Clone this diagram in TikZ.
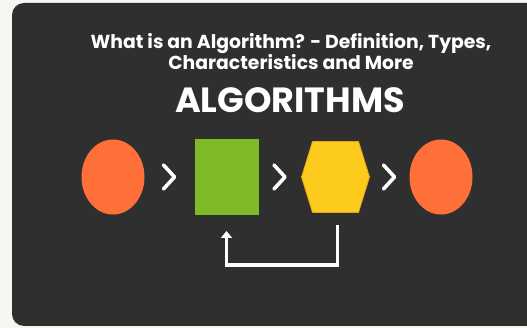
\documentclass[tikz,border=0pt]{standalone}
\usepackage{fontspec}
\setmainfont{Poppins}
\usetikzlibrary{positioning,arrows.meta,shapes.geometric,calc}
\definecolor{pagebg}{HTML}{F8F6F3}
\definecolor{panelbg}{HTML}{2F2F2F}
\definecolor{termorange}{HTML}{FF7038}
\definecolor{procgreen}{HTML}{7FBA27}
\definecolor{decyellow}{HTML}{FDCB1E}
\definecolor{decedge}{HTML}{E3A512}
\begin{document}
\begin{tikzpicture}[x=1pt, y=-1pt,
        terminal/.style={ellipse, fill=termorange, minimum width=63pt, minimum height=75pt, inner sep=0pt, outer sep=0pt},
        process/.style={rectangle, fill=procgreen, minimum width=64pt, minimum height=76pt, inner sep=0pt, outer sep=0pt},
        decision/.style={rectangle, minimum width=68pt, minimum height=71pt, inner sep=0pt, outer sep=0pt},
        heading/.style={text=white, font=\bfseries, align=center, inner sep=0pt}
    ]

    %styles
    \tikzstyle{chevron}=[draw=white, line width=3.6pt, line cap=round, line join=round]
    \tikzstyle{loopback}=[draw=white, line width=3.4pt, -{Triangle[length=7pt, width=11pt]}]

    %background
    \useasboundingbox (0,0) rectangle (527,328);
    \clip (0,0) rectangle (527,328);
    \fill[pagebg] (0,0) rectangle (527,328);
    \fill[panelbg, rounded corners=12pt] (12,3) rectangle (560,326);

    %titles
    \node[heading, font=\bfseries\fontsize{18.8}{21}\selectfont] (subtitle) at (291,52) {What is an Algorithm? - Definition, Types,\\Characteristics and More};
    \node[heading, font=\fontseries{sb}\fontsize{35}{38}\selectfont] (title) at (290,100) {ALGORITHMS};

    %nodes
    \node[terminal] (start) at (113,177) {};
    \node[process, right=50pt of start] (proc) {};
    \node[decision, right=43pt of proc] (decide) {};
    \node[terminal, right=40pt of decide] (stop) {};

    \fill[decyellow, draw=decedge, line width=0.8pt]
        (decide.west) -- ([xshift=11pt]decide.north west) -- ([xshift=-11pt]decide.north east)
        -- (decide.east) -- ([xshift=-11pt]decide.south east) -- ([xshift=11pt]decide.south west) -- cycle;

    %chevrons
    \foreach \a/\b in {start/proc, proc/decide, decide/stop} {
        \coordinate (mid) at ($(\a.east)!0.5!(\b.west)$);
        \draw[chevron] ([shift={(-6,-12)}]mid) -- ([shift={(5,0)}]mid) -- ([shift={(-6,12)}]mid);
    }

    %arrows
    \coordinate (loopstart) at ([xshift=2pt, yshift=-13pt]decide.south);
    \draw[loopback] (loopstart) |- ([yshift=-50pt]proc.south) -- ([yshift=-16pt]proc.south);

\end{tikzpicture}
\end{document}
